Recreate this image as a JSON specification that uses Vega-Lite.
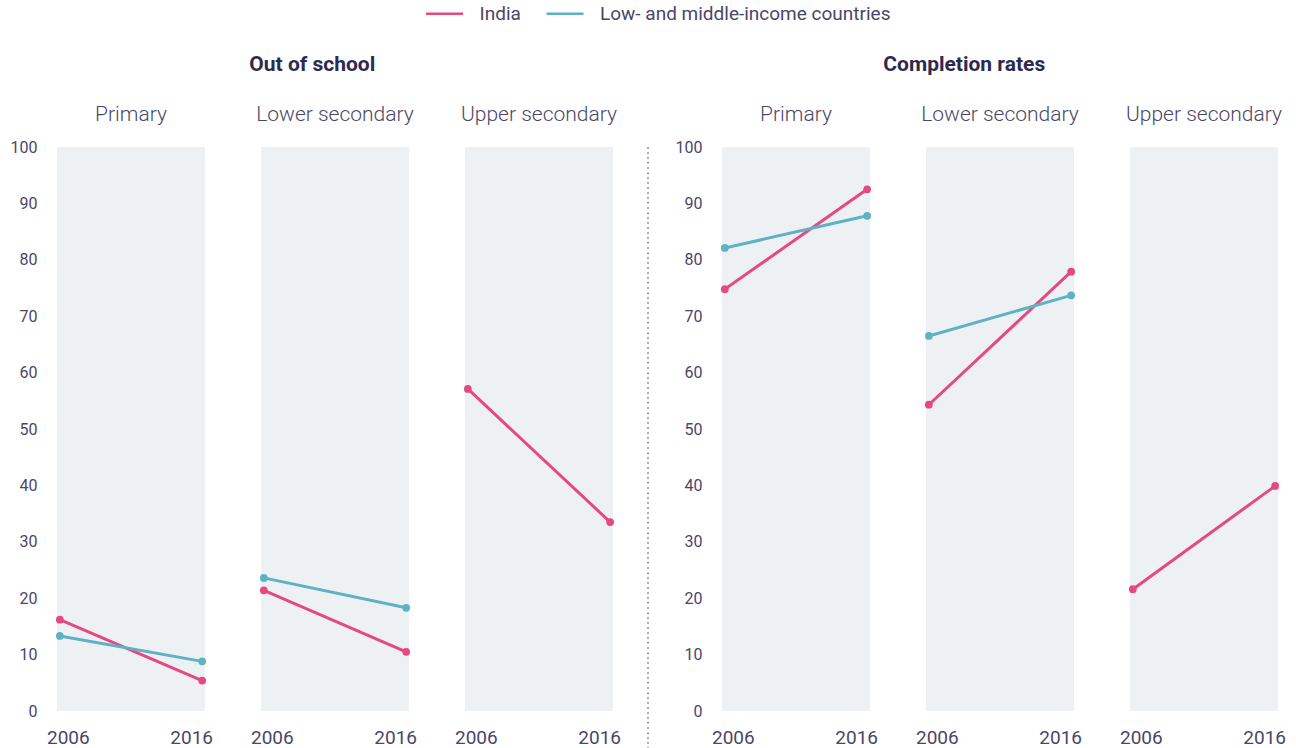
{
  "$schema": "https://vega.github.io/schema/vega-lite/v6.json",
  "padding": {"left": 10, "top": 4, "right": 5, "bottom": 0},
  "background": "white",
  "data": {"values": [
    {"group": "Out of school", "level": "Primary", "series": "India", "year": 2006, "value": 16.2},
    {"group": "Out of school", "level": "Primary", "series": "India", "year": 2016, "value": 5.4},
    {"group": "Out of school", "level": "Primary", "series": "Low- and middle-income countries", "year": 2006, "value": 13.3},
    {"group": "Out of school", "level": "Primary", "series": "Low- and middle-income countries", "year": 2016, "value": 8.8},
    {"group": "Out of school", "level": "Lower secondary", "series": "India", "year": 2006, "value": 21.4},
    {"group": "Out of school", "level": "Lower secondary", "series": "India", "year": 2016, "value": 10.5},
    {"group": "Out of school", "level": "Lower secondary", "series": "Low- and middle-income countries", "year": 2006, "value": 23.6},
    {"group": "Out of school", "level": "Lower secondary", "series": "Low- and middle-income countries", "year": 2016, "value": 18.3},
    {"group": "Out of school", "level": "Upper secondary", "series": "India", "year": 2006, "value": 57.1},
    {"group": "Out of school", "level": "Upper secondary", "series": "India", "year": 2016, "value": 33.5},
    {"group": "Completion rates", "level": "Primary", "series": "India", "year": 2006, "value": 74.8},
    {"group": "Completion rates", "level": "Primary", "series": "India", "year": 2016, "value": 92.5},
    {"group": "Completion rates", "level": "Primary", "series": "Low- and middle-income countries", "year": 2006, "value": 82.1},
    {"group": "Completion rates", "level": "Primary", "series": "Low- and middle-income countries", "year": 2016, "value": 87.8},
    {"group": "Completion rates", "level": "Lower secondary", "series": "India", "year": 2006, "value": 54.3},
    {"group": "Completion rates", "level": "Lower secondary", "series": "India", "year": 2016, "value": 77.9},
    {"group": "Completion rates", "level": "Lower secondary", "series": "Low- and middle-income countries", "year": 2006, "value": 66.5},
    {"group": "Completion rates", "level": "Lower secondary", "series": "Low- and middle-income countries", "year": 2016, "value": 73.7},
    {"group": "Completion rates", "level": "Upper secondary", "series": "India", "year": 2006, "value": 21.6},
    {"group": "Completion rates", "level": "Upper secondary", "series": "India", "year": 2016, "value": 39.9}
  ]},
  "spacing": 26,
  "hconcat": [
    {
      "transform": [{"filter": "datum.group == 'Out of school'"}],
      "title": {"text": "Out of school", "anchor": "middle", "dx": -3},
      "facet": {"column": {"field": "level", "type": "nominal", "sort": ["Primary", "Lower secondary", "Upper secondary"], "header": {"title": null}}},
      "spacing": {"column": 48},
      "spec": {
        "width": 148,
        "height": 564,
        "layer": [
          {
            "mark": {"type": "line", "strokeWidth": 3},
            "encoding": {
              "x": {"field": "year", "type": "quantitative", "scale": {"domain": [2005.8, 2016.2], "nice": false, "zero": false},
                    "axis": {"values": [2006, 2016], "format": "d", "title": null, "labelOffset": {"condition": {"test": "datum.value == 2006", "value": 8}, "value": -11}}},
              "y": {"field": "value", "type": "quantitative", "scale": {"domain": [0, 100], "nice": false}, "axis": {"values": [0, 10, 20, 30, 40, 50, 60, 70, 80, 90, 100], "title": null}},
              "color": {"field": "series", "type": "nominal", "scale": {"domain": ["India", "Low- and middle-income countries"], "range": ["#e6497f", "#5fb2c3"]}},
              "detail": {"field": "series"}
            }
          },
          {
            "mark": {"type": "point", "filled": true, "size": 60, "opacity": 1},
            "encoding": {
              "x": {"field": "year", "type": "quantitative"},
              "y": {"field": "value", "type": "quantitative"},
              "color": {"field": "series", "type": "nominal"}
            }
          }
        ]
      }
    },
    {
      "data": {"values": [{"sep": 0}]},
      "width": 1,
      "height": 700,
      "view": {"fill": null, "stroke": null},
      "mark": {"type": "rule", "strokeDash": [2, 3], "color": "#5a5a6a", "strokeWidth": 1},
      "encoding": {"x": {"field": "sep", "type": "quantitative", "axis": null, "scale": {"domain": [0, 1]}}}
    },
    {
      "transform": [{"filter": "datum.group == 'Completion rates'"}],
      "title": {"text": "Completion rates", "anchor": "middle", "dx": -16},
      "facet": {"column": {"field": "level", "type": "nominal", "sort": ["Primary", "Lower secondary", "Upper secondary"], "header": {"title": null}}},
      "spacing": {"column": 48},
      "spec": {
        "width": 148,
        "height": 564,
        "layer": [
          {
            "mark": {"type": "line", "strokeWidth": 3},
            "encoding": {
              "x": {"field": "year", "type": "quantitative", "scale": {"domain": [2005.8, 2016.2], "nice": false, "zero": false},
                    "axis": {"values": [2006, 2016], "format": "d", "title": null, "labelOffset": {"condition": {"test": "datum.value == 2006", "value": 8}, "value": -11}}},
              "y": {"field": "value", "type": "quantitative", "scale": {"domain": [0, 100], "nice": false}, "axis": {"values": [0, 10, 20, 30, 40, 50, 60, 70, 80, 90, 100], "title": null}},
              "color": {"field": "series", "type": "nominal"},
              "detail": {"field": "series"}
            }
          },
          {
            "mark": {"type": "point", "filled": true, "size": 60, "opacity": 1},
            "encoding": {
              "x": {"field": "year", "type": "quantitative"},
              "y": {"field": "value", "type": "quantitative"},
              "color": {"field": "series", "type": "nominal"}
            }
          }
        ]
      }
    }
  ],
  "config": {
    "font": "Roboto",
    "view": {"fill": "#edf1f4", "stroke": null},
    "title": {"fontSize": 21, "fontWeight": "bold", "color": "#2e2a4f", "font": "Roboto", "offset": 29},
    "header": {"labelFontSize": 21, "labelColor": "#4b4668", "labelFont": "Roboto", "labelFontWeight": 300, "labelPadding": 22},
    "axis": {"domain": false, "ticks": false, "grid": false, "labelColor": "#4b4668", "labelFont": "Roboto"},
    "axisX": {"labelFontSize": 19, "labelPadding": 17},
    "axisY": {"labelFontSize": 16, "labelPadding": 16},
    "legend": {
      "orient": "none", "legendX": 378, "legendY": -143, "direction": "horizontal", "title": null,
      "symbolType": "M-3.7,0H3.7", "symbolSize": 100, "symbolStrokeWidth": 2.5, "labelLimit": 500,
      "labelFontSize": 19, "labelColor": "#4b4668", "labelFont": "Roboto", "labelOffset": 25.5, "columnPadding": 20.5, "padding": 0
    }
  }
}
